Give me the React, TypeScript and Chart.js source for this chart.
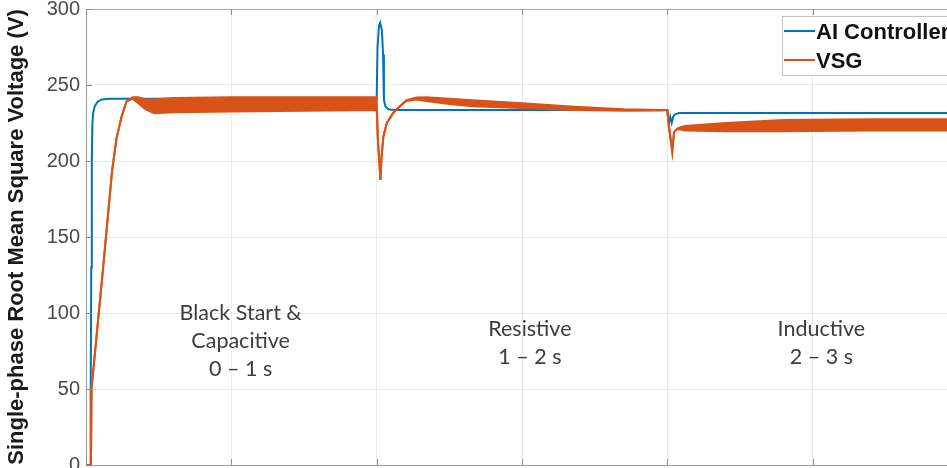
import React, { useEffect, useRef } from 'react';
import { Chart, registerables } from 'chart.js';

Chart.register(...registerables);

// ---- data (time in s, voltage in V) ----
const AI_T = [0, 0.014, 0.016, 0.018, 0.02, 0.022, 0.025, 0.03, 0.04, 0.055, 0.08, 0.5, 1.0,
  1.003, 1.008, 1.012, 1.018, 1.022, 1.025, 1.03, 1.04, 1.06, 1.5, 2.0,
  2.005, 2.01, 2.015, 2.02, 2.025, 2.04, 2.5, 3.0];
const AI_V = [0, 0, 40, 130, 200, 225, 232, 236, 239, 240.5, 241, 241, 241,
  275, 289, 291, 286, 270, 240, 236, 234, 233.5, 233.5, 233.5,
  224, 229, 225, 229, 230.5, 231.5, 231.5, 231.5];

const VSG_T = [0, 0.017, 0.019, 0.058, 0.09, 0.105, 0.122, 0.139, 0.16, 0.18, 0.205, 0.235, 0.3, 0.5, 0.75, 1.0,
  1.004, 1.013, 1.017, 1.023, 1.035, 1.056, 1.08, 1.102, 1.137, 1.17, 1.25, 1.33, 1.5, 1.68, 1.85, 1.98, 2.0,
  2.004, 2.017, 2.023, 2.035, 2.06, 2.2, 2.4, 2.7, 3.0];
const VSG_UPPER = [0, 0, 50, 128, 194, 215, 229, 239, 242, 242, 240.5, 240.5, 241.5, 242, 242, 242,
  215, 187.5, 203, 216, 225, 231.5, 236, 240, 241.8, 242, 241, 240, 238, 235.7, 234, 233.6, 233.5,
  225, 206, 219, 221.5, 223, 225, 227, 227.5, 227.5];
const VSG_LOWER = [0, 0, 50, 128, 194, 215, 229, 239, 241, 238, 234, 231.5, 232, 232.5, 233, 233.5,
  215, 187.5, 203, 216, 225, 231.5, 236, 239.5, 240.5, 239.5, 237.5, 236, 234.8, 233.5, 233, 233.3, 233.5,
  225, 206, 219, 221, 220, 219.5, 219.5, 220, 220];

const SERIES_NAMES = ['AI Controller', 'VSG'];
const Y_TITLE = 'Single-phase Root Mean Square Voltage (V)';

const REGION_TEXT = [
  ['Black Start &', 'Capacitive', '0 \u2013 1 s'],
  ['Resistive', '1 \u2013 2 s'],
  ['Inductive', '2 \u2013 3 s'],
];
const REGION_X = [0.532, 1.527, 2.53];
const REGION_Y = [100, 89.5, 89.5];

const BLUE = '#0072BD';
const ORANGE = '#D95319';

const boxPlugin = {
  id: 'boxPlugin',
  afterDatasetsDraw(chart: any) {
    const { ctx, chartArea: a, scales } = chart;
    ctx.save();
    ctx.strokeStyle = '#a8a8a8';
    ctx.lineWidth = 1;
    ctx.beginPath();
    ctx.moveTo(a.left, Math.round(a.top) + 0.5);
    ctx.lineTo(a.right, Math.round(a.top) + 0.5);
    ctx.moveTo(Math.round(a.right) + 0.5, a.top);
    ctx.lineTo(Math.round(a.right) + 0.5, a.bottom);
    ctx.stroke();
    ctx.strokeStyle = '#8a8a8a';
    ctx.beginPath();
    scales.y.ticks.forEach((t: any) => {
      const py = Math.round(scales.y.getPixelForValue(t.value)) + 0.5;
      ctx.moveTo(a.left, py);
      ctx.lineTo(a.left + 6, py);
    });
    scales.x.ticks.forEach((t: any) => {
      const px = Math.round(scales.x.getPixelForValue(t.value)) + 0.5;
      ctx.moveTo(px, a.top);
      ctx.lineTo(px, a.top + 6);
      ctx.moveTo(px, a.bottom);
      ctx.lineTo(px, a.bottom - 6);
    });
    ctx.stroke();
    ctx.restore();
  },
};

const regionPlugin = {
  id: 'regionPlugin',
  afterDraw(chart: any) {
    const { ctx, scales } = chart;
    ctx.save();
    ctx.fillStyle = '#3c3c3c';
    ctx.font = '21.5px Lato, "Open Sans", sans-serif';
    ctx.textAlign = 'center';
    ctx.textBaseline = 'middle';
    REGION_TEXT.forEach((lines, i) => {
      const px = scales.x.getPixelForValue(REGION_X[i]);
      const py = scales.y.getPixelForValue(REGION_Y[i]);
      lines.forEach((s, j) => ctx.fillText(s, px, py + j * 28));
    });
    ctx.restore();
  },
};

const legendPlugin = {
  id: 'legendPlugin',
  afterDraw(chart: any) {
    const { ctx, chartArea: a } = chart;
    const left = a.right - 176;
    const top = a.top + 7;
    const w = 172;
    const h = 59;
    ctx.save();
    ctx.fillStyle = '#ffffff';
    ctx.fillRect(left, top, w, h);
    ctx.strokeStyle = '#c4c4c4';
    ctx.lineWidth = 1;
    ctx.strokeRect(Math.round(left) + 0.5, Math.round(top) + 0.5, w, h);
    const colors = [BLUE, ORANGE];
    ctx.font = 'bold 22px "Liberation Sans", Arial, sans-serif';
    ctx.textBaseline = 'middle';
    ctx.textAlign = 'left';
    SERIES_NAMES.forEach((name, i) => {
      const cy = top + 15 + i * 29;
      ctx.strokeStyle = colors[i];
      ctx.lineWidth = 2;
      ctx.beginPath();
      ctx.moveTo(left + 2, cy);
      ctx.lineTo(left + 33, cy);
      ctx.stroke();
      ctx.fillStyle = '#111111';
      ctx.fillText(name, left + 34, cy + 2);
    });
    ctx.restore();
  },
};

export default function App() {
  const ref = useRef<HTMLCanvasElement | null>(null);
  useEffect(() => {
    if (!ref.current) return;
    const chart = new Chart(ref.current, {
      type: 'line',
      data: {
        datasets: [
          {
            label: SERIES_NAMES[0],
            data: AI_T.map((t, i) => ({ x: t, y: AI_V[i] })),
            borderColor: BLUE,
            borderWidth: 2,
            pointRadius: 0,
            fill: false,
            order: 2,
          },
          {
            label: SERIES_NAMES[1],
            data: VSG_T.map((t, i) => ({ x: t, y: VSG_UPPER[i] })),
            borderColor: ORANGE,
            borderWidth: 2,
            pointRadius: 0,
            fill: false,
            order: 1,
          },
          {
            label: SERIES_NAMES[1] + ' (lower)',
            data: VSG_T.map((t, i) => ({ x: t, y: VSG_LOWER[i] })),
            borderColor: ORANGE,
            backgroundColor: ORANGE,
            borderWidth: 2,
            pointRadius: 0,
            fill: '-1',
            order: 0,
          },
        ],
      },
      options: {
        animation: false,
        responsive: true,
        maintainAspectRatio: false,
        layout: { padding: { top: 9, right: 52, left: 0, bottom: 0 } },
        plugins: { legend: { display: false }, tooltip: { enabled: false } },
        scales: {
          x: {
            type: 'linear',
            min: 0,
            max: 3,
            ticks: { stepSize: 0.5, color: '#4a4a4a', font: { size: 20, family: '"Liberation Sans", Arial' } },
            grid: { color: 'rgba(0,0,0,0.08)', drawTicks: false },
            border: { color: '#9a9a9a' },
            afterFit: (s: any) => { s.height = 65; s.paddingLeft = 0; s.paddingRight = 0; },
          },
          y: {
            min: 0,
            max: 300,
            ticks: { stepSize: 50, padding: 6, color: '#4a4a4a', font: { size: 20, family: '"Liberation Sans", Arial' } },
            grid: { color: 'rgba(0,0,0,0.08)', drawTicks: false },
            border: { color: '#9a9a9a' },
            title: {
              display: true,
              text: Y_TITLE,
              color: '#1a1a1a',
              font: { size: 22, weight: 'bold', family: '"Liberation Sans", Arial' },
              padding: { top: 4, bottom: 0 },
            },
            afterFit: (s: any) => { s.width = 86; s.paddingTop = 0; s.paddingBottom = 0; },
          },
        },
      },
      plugins: [boxPlugin, regionPlugin, legendPlugin],
    } as any);
    return () => chart.destroy();
  }, []);
  return (
    <div style={{ position: 'fixed', left: 0, top: 0, width: 947, height: 468, overflow: 'hidden', background: '#fff' }}>
      <div style={{ position: 'absolute', left: 0, top: 0, width: 1010, height: 530 }}>
        <canvas ref={ref} />
      </div>
    </div>
  );
}
